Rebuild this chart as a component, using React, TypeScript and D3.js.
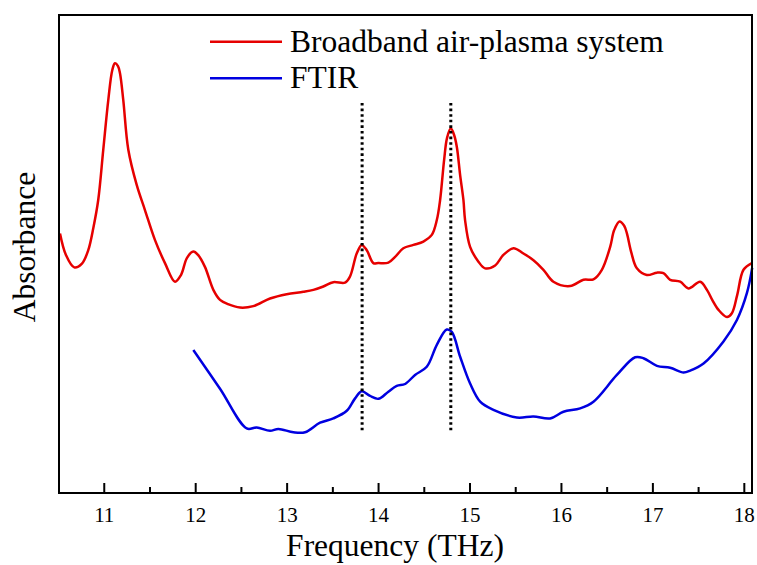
import React, { useRef, useEffect } from 'react'
import * as d3 from 'd3'

// frequency (THz) and absorbance (a.u.)
const plasmaFreq = [10.516, 10.581, 10.672, 10.756, 10.825, 10.882, 10.934, 10.989, 11.044, 11.088, 11.117, 11.15, 11.172, 11.208, 11.263, 11.354, 11.445, 11.555, 11.664, 11.774, 11.839, 11.905, 11.974, 12.025, 12.101, 12.193, 12.266, 12.353, 12.485, 12.63, 12.813, 12.995, 13.177, 13.287, 13.396, 13.505, 13.633, 13.688, 13.761, 13.816, 13.871, 13.943, 13.998, 14.107, 14.181, 14.271, 14.381, 14.49, 14.582, 14.637, 14.673, 14.717, 14.749, 14.79, 14.826, 14.856, 14.892, 14.928, 14.946, 15.001, 15.092, 15.165, 15.275, 15.365, 15.475, 15.584, 15.694, 15.803, 15.912, 16.095, 16.241, 16.35, 16.442, 16.533, 16.577, 16.635, 16.686, 16.716, 16.763, 16.825, 16.934, 17.044, 17.116, 17.189, 17.299, 17.389, 17.517, 17.591, 17.649, 17.718, 17.81, 17.864, 17.922, 17.991, 18.083]
const plasmaAbs = [0.543, 0.498, 0.472, 0.48, 0.508, 0.556, 0.613, 0.718, 0.822, 0.885, 0.899, 0.893, 0.878, 0.822, 0.718, 0.645, 0.592, 0.529, 0.481, 0.442, 0.456, 0.492, 0.505, 0.498, 0.473, 0.425, 0.404, 0.395, 0.388, 0.391, 0.407, 0.416, 0.421, 0.425, 0.432, 0.441, 0.44, 0.453, 0.501, 0.519, 0.508, 0.481, 0.481, 0.482, 0.494, 0.512, 0.519, 0.526, 0.54, 0.571, 0.613, 0.697, 0.743, 0.763, 0.749, 0.724, 0.665, 0.613, 0.571, 0.515, 0.484, 0.47, 0.476, 0.498, 0.512, 0.501, 0.487, 0.467, 0.442, 0.433, 0.446, 0.447, 0.467, 0.515, 0.55, 0.568, 0.559, 0.543, 0.504, 0.47, 0.456, 0.461, 0.46, 0.446, 0.442, 0.428, 0.442, 0.425, 0.404, 0.383, 0.368, 0.376, 0.414, 0.467, 0.481]

const ftirFreq = [11.974, 12.266, 12.558, 12.667, 12.813, 12.904, 13.068, 13.196, 13.36, 13.505, 13.652, 13.743, 13.816, 13.907, 13.998, 14.107, 14.199, 14.29, 14.399, 14.527, 14.637, 14.746, 14.801, 14.892, 15.001, 15.111, 15.256, 15.512, 15.694, 15.876, 16.022, 16.205, 16.35, 16.606, 16.806, 16.897, 17.044, 17.189, 17.335, 17.408, 17.554, 17.772, 17.919, 18.028, 18.086]
const ftirAbs = [0.299, 0.218, 0.135, 0.137, 0.13, 0.134, 0.127, 0.127, 0.147, 0.156, 0.172, 0.198, 0.213, 0.203, 0.197, 0.212, 0.224, 0.228, 0.247, 0.264, 0.31, 0.342, 0.337, 0.285, 0.229, 0.191, 0.174, 0.158, 0.16, 0.156, 0.17, 0.177, 0.191, 0.247, 0.284, 0.282, 0.266, 0.262, 0.252, 0.256, 0.271, 0.317, 0.362, 0.418, 0.471]

const markerFreq = [13.82, 14.79]
const markerRange = [0.128, 0.816]
const xTicks = [11, 12, 13, 14, 15, 16, 17, 18]
const seriesNames = ['Broadband air-plasma system', 'FTIR']
const seriesColors = ['#e60000', '#0000e0']

export default function App() {
  const svgRef = useRef(null)
  const width = 757
  const height = 565

  useEffect(() => {
    if (!svgRef.current) return
    const svg = d3.select(svgRef.current)
    svg.selectAll('*').remove()

    const m = { t: 15, r: 5, b: 72, l: 59 }
    const x = d3.scaleLinear().domain([10.505, 18.084]).range([m.l, width - m.r])
    const y = d3.scaleLinear().domain([0, 1]).range([height - m.b, m.t])
    const font = '"Liberation Serif", "Times New Roman", serif'

    svg.append('rect').attr('width', width).attr('height', height).attr('fill', '#fff')

    const line = d3.line().x(d => x(d[0])).y(d => y(d[1])).curve(d3.curveCatmullRom.alpha(0.5))
    const series = [
      d3.zip(plasmaFreq, plasmaAbs),
      d3.zip(ftirFreq, ftirAbs),
    ]

    series.forEach((pts, i) => {
      svg.append('path')
        .datum(pts)
        .attr('d', line)
        .attr('fill', 'none')
        .attr('stroke', seriesColors[i])
        .attr('stroke-width', 2.5)
        .attr('stroke-linejoin', 'round')
    })

    markerFreq.forEach(f => {
      svg.append('line')
        .attr('x1', x(f)).attr('x2', x(f))
        .attr('y1', y(markerRange[1])).attr('y2', y(markerRange[0]))
        .attr('stroke', '#000')
        .attr('stroke-width', 3)
        .attr('stroke-dasharray', '2.6,3')
    })

    // frame
    svg.append('rect')
      .attr('x', m.l).attr('y', m.t)
      .attr('width', width - m.r - m.l).attr('height', height - m.b - m.t)
      .attr('fill', 'none').attr('stroke', '#000').attr('stroke-width', 2)

    // inward ticks on bottom axis
    const minor = d3.range(10.5, 18.1, 0.5).filter(v => !xTicks.includes(v) && v > 10.51)
    const axisY = y(0)
    minor.forEach(v => {
      svg.append('line').attr('x1', x(v)).attr('x2', x(v))
        .attr('y1', axisY).attr('y2', axisY - 6)
        .attr('stroke', '#000').attr('stroke-width', 2)
    })
    xTicks.forEach(v => {
      svg.append('line').attr('x1', x(v)).attr('x2', x(v))
        .attr('y1', axisY).attr('y2', axisY - 10)
        .attr('stroke', '#000').attr('stroke-width', 2)
      svg.append('text')
        .attr('x', x(v)).attr('y', axisY + 29)
        .attr('text-anchor', 'middle')
        .attr('font-family', font).attr('font-size', 21)
        .text(v)
    })

    svg.append('text')
      .attr('x', 395).attr('y', 556)
      .attr('text-anchor', 'middle')
      .attr('font-family', font).attr('font-size', 31.5)
      .text('Frequency (THz)')

    svg.append('text')
      .attr('transform', 'translate(35,247) rotate(-90)')
      .attr('text-anchor', 'middle')
      .attr('font-family', font).attr('font-size', 31.5)
      .text('Absorbance')

    // legend
    seriesNames.forEach((name, i) => {
      const ly = 41.7 + i * 36.6
      svg.append('line')
        .attr('x1', 210).attr('x2', 282)
        .attr('y1', ly).attr('y2', ly)
        .attr('stroke', seriesColors[i]).attr('stroke-width', 2.5)
      svg.append('text')
        .attr('x', 290).attr('y', ly + 10)
        .attr('font-family', font).attr('font-size', 31.5)
        .text(name)
    })
  }, [])

  return (
    <div style={{ position: 'absolute', left: 0, top: 0 }}>
      <svg ref={svgRef} width={width} height={height} />
    </div>
  )
}
